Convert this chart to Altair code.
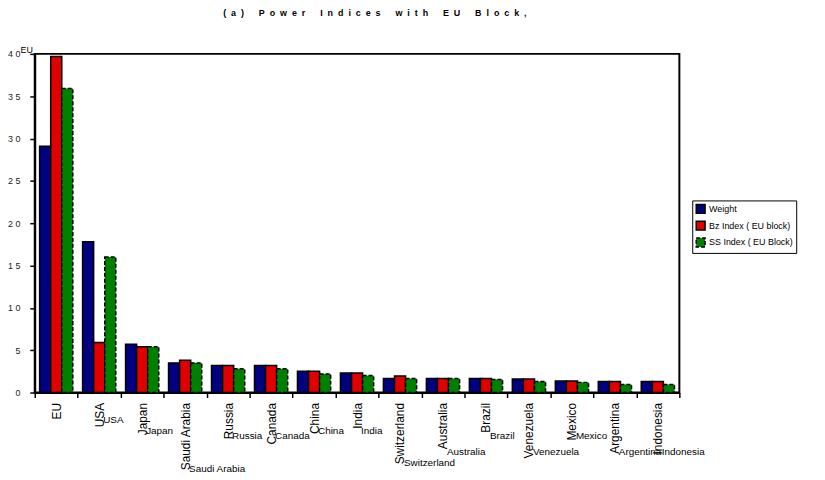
import altair as alt
import pandas as pd

countries = ["EU", "USA", "Japan", "Saudi Arabia", "Russia", "Canada", "China",
             "India", "Switzerland", "Australia", "Brazil", "Venezuela", "Mexico",
             "Argentina", "Indonesia"]
series = ["Weight", "Bz Index ( EU block)", "SS Index ( EU Block)"]
weight = [29.1, 17.8, 5.7, 3.5, 3.2, 3.2, 2.5, 2.3, 1.65, 1.65, 1.65, 1.6, 1.35, 1.3, 1.3]
bz = [39.7, 5.9, 5.4, 3.8, 3.2, 3.2, 2.5, 2.3, 1.95, 1.65, 1.65, 1.6, 1.35, 1.3, 1.3]
ss = [35.9, 16.0, 5.4, 3.5, 2.8, 2.8, 2.2, 2.0, 1.65, 1.65, 1.55, 1.3, 1.2, 0.95, 0.95]
colors = ["#000080", "#e00000", "#008000"]
y_ticks = [0, 5, 10, 15, 20, 25, 30, 35, 40]
title_words = ["(a)", "Power", "Indices", "with", "EU", "Block,"]

NB = "\u00a0"
title_text = (NB * 6).join((NB * 2).join(list(w)) for w in title_words)

rows = []
for i, c in enumerate(countries):
    for s, vals in zip(series, [weight, bz, ss]):
        rows.append({"country": c, "series": s, "value": vals[i]})
df = pd.DataFrame(rows)
lab = pd.DataFrame({"country": countries})

xscale = alt.Scale(domain=countries, paddingInner=0, paddingOuter=0)

bars = alt.Chart(df).mark_bar(stroke="black", strokeWidth=1.5).encode(
    x=alt.X("country:N", scale=xscale, sort=countries,
            axis=alt.Axis(title=None, labelAngle=-90, labelFontSize=12,
                          labelFont="Liberation Sans", labelColor="black",
                          labelPadding=5, tickBand="extent", tickSize=5,
                          tickColor="black", tickWidth=1.5, domainColor="black",
                          domainWidth=2)),
    xOffset=alt.XOffset("series:N", sort=series,
                        scale=alt.Scale(domain=series, paddingInner=0, paddingOuter=0.44)),
    y=alt.Y("value:Q", scale=alt.Scale(domain=[0, 40], nice=False),
            axis=alt.Axis(title=None, values=y_ticks, grid=False, labelFontSize=9,
                          labelFont="Liberation Sans", labelColor="#222",
                          labelExpr="datum.value >= 10 ? floor(datum.value/10) + '\u00a0' + (datum.value % 10) : '' + datum.value",
                          tickSize=5, tickColor="black", tickWidth=1.5,
                          labelPadding=10, domainColor="black", domainWidth=2)),
    fill=alt.Fill("series:N", sort=series,
                  scale=alt.Scale(domain=series, range=colors),
                  legend=alt.Legend(title=None, orient="none", legendX=664, legendY=148,
                                    strokeColor="black", fillColor="white", padding=3,
                                    labelFontSize=9, labelFont="Liberation Sans",
                                    labelColor="black", symbolType="square",
                                    symbolSize=80, symbolStrokeColor="black",
                                    symbolStrokeWidth=1.5, rowPadding=2,
                                    labelOffset=3)),
    strokeDash=alt.StrokeDash("series:N", sort=series,
                              scale=alt.Scale(domain=series, range=[[1, 0], [1, 0], [4, 2]]),
                              legend=None),
)

hlabels = alt.Chart(lab).transform_filter(
    "datum.country != 'EU'"
).transform_calculate(
    ly="353 + 5.5 * length(datum.country)"
).mark_text(align="left", baseline="middle", dx=4, fontSize=10,
            font="Liberation Sans", color="black").encode(
    x=alt.X("country:N", scale=xscale, sort=countries),
    y=alt.Y("ly:Q", scale=None),
    text="country:N",
)

eulabel = alt.Chart(lab).transform_filter(
    "datum.country == 'EU'"
).mark_text(align="left", baseline="middle", dx=-36, fontSize=9,
            font="Liberation Sans", color="black").encode(
    x=alt.X("country:N", scale=xscale, sort=countries),
    y=alt.value(-4),
    text="country:N",
)

chart = alt.layer(bars, hlabels, eulabel).properties(
    width=651, height=342,
    autosize=alt.AutoSizeParams(type="none"),
    padding={"left": 27, "top": 44, "right": 139, "bottom": 86},
    title=alt.TitleParams(title_text, fontSize=9, fontWeight="bold",
                          font="Liberation Sans", anchor="middle", dx=18,
                          offset=28, color="black"),
).configure_view(stroke="black", strokeWidth=2)

chart.save("out.html", embed_options={"renderer": "svg", "actions": False})
